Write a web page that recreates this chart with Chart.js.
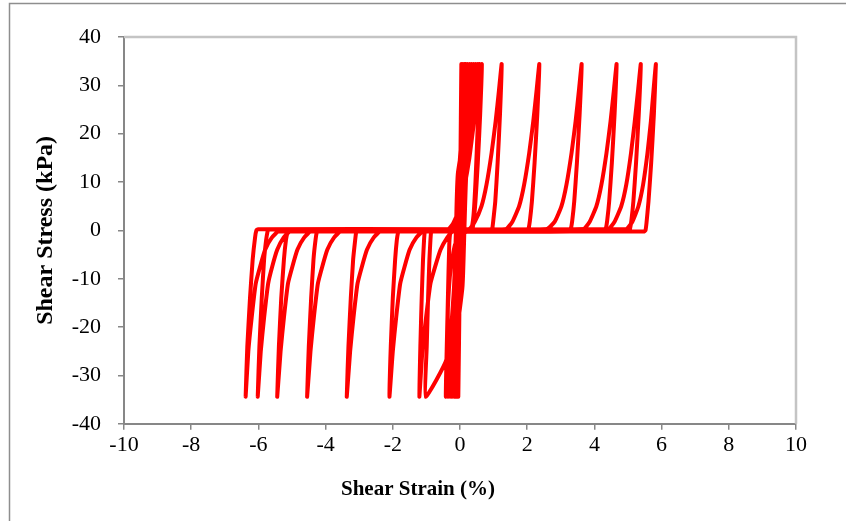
<!DOCTYPE html>
<html>
<head>
<meta charset="utf-8">
<script src="https://cdn.jsdelivr.net/npm/chart.js@4/dist/chart.umd.min.js"></script>
<style>
  html, body { margin: 0; padding: 0; background: #ffffff; }
  #wrap { width: 846px; height: 521px; position: relative; }
</style>
</head>
<body>
<div id="wrap"><canvas id="chart" width="846" height="521"></canvas></div>
<script>
// Axis ranges and tick steps
const strainTicks = { min: -10, max: 10, step: 2 };
const stressTicks = { min: -40, max: 40, step: 10 };

// Test record: [shear strain (%), shear stress (kPa)]
// Early cycles before liquefaction: small strain, steep loops
const earlyCycles = [
  [0, 0], [0.02, 12], [0.04, 34.4], [0.01, 12], [-0.01, 0], [-0.03, -12], [-0.05, -34.4],
  [-0.01, -12], [0.01, 0], [0.03, 12], [0.08, 34.4], [0.0, 12], [-0.02, 0], [-0.04, -12], [-0.09, -34.4],
  [0.0, -12], [0.02, 0], [0.04, 12], [0.12, 34.4], [-0.01, 12], [-0.03, 0], [-0.05, -12], [-0.13, -34.4],
  [0.01, -12], [0.03, 0], [0.05, 12], [0.17, 34.4], [-0.02, 12], [-0.04, 0], [-0.06, -12], [-0.17, -34.4],
  [0.02, -12], [0.04, 0], [0.06, 12], [0.22, 34.4], [-0.03, 12], [-0.05, 0], [-0.07, -12], [-0.21, -34.4],
  [0.03, -12], [0.05, 0], [0.08, 12], [0.28, 34.4], [-0.03, 12], [-0.06, 0], [-0.09, -12], [-0.25, -34.4],
  [0.04, -12], [0.07, 0], [0.10, 12], [0.34, 34.4], [-0.04, 12], [-0.07, 0], [-0.10, -12], [-0.29, -34.4],
  [0.05, -12], [0.09, 0], [0.13, 12], [0.40, 34.4], [-0.04, 12], [-0.08, 0], [-0.12, -12], [-0.33, -34.4],
  [0.06, -12], [0.11, 0], [0.16, 12], [0.46, 34.4], [-0.05, 12], [-0.10, 0], [-0.15, -12], [-0.37, -34.4],
  [0.07, -12], [0.13, 0], [0.19, 12], [0.52, 34.4], [-0.06, 12], [-0.12, 0], [-0.18, -12], [-0.42, -34.4]
];

// Onset of liquefaction: first flat stretches near zero stress
const onsetCycles = [
  [-0.36, -14], [-0.32, -3], [-0.28, -0.2], [-0.18, 0.8], [-0.06, 3], [0.04, 8], [0.14, 15],
  [0.26, 23], [0.36, 26], [0.47, 31], [0.58, 34.4],
  [0.53, 22], [0.46, 10], [0.40, 3], [0.33, 0.3], [0.20, -0.3], [0.0, -1], [-0.15, -3],
  [-0.28, -8], [-0.36, -16], [-0.40, -26.6], [-1.02, -34.4],
  [-0.99, -24], [-0.95, -14], [-0.91, -6], [-0.88, -2], [-0.86, -0.3], [-0.84, 0.25],
  [-0.35, 0.25], [-0.2, 1.5], [-0.02, 4.5], [0.13, 9], [0.28, 15], [0.40, 21.5], [0.52, 28], [0.65, 34.4],
  [0.60, 24], [0.53, 14], [0.46, 6], [0.41, 2], [0.37, 0.3], [0.34, -0.25],
  [-0.22, -0.25], [-0.38, -1.5], [-0.58, -4], [-0.74, -7.5], [-0.88, -11], [-1.01, -18], [-1.12, -25], [-1.21, -34.4],
  [-1.18, -24], [-1.14, -14], [-1.10, -6], [-1.07, -2], [-1.05, -0.3], [-1.03, 0.25]
];

// Large-strain cycles: loading branch then unloading branch for each peak
const cycle1 = [
  [0.26, 0.25], [0.44, 1.8], [0.64, 5], [0.79, 9.5], [0.94, 16], [1.06, 22.5], [1.16, 29], [1.24, 34.4],
  [1.19, 24], [1.12, 14], [1.05, 6], [0.99, 2], [0.96, 0.3], [0.93, -0.25],
  [-1.10, -0.25], [-1.30, -1.5], [-1.50, -4], [-1.65, -7.5], [-1.78, -11], [-1.90, -18], [-2.00, -25], [-2.10, -34.4],
  [-2.06, -24], [-2.00, -14], [-1.93, -6], [-1.88, -2], [-1.84, -0.3], [-1.81, 0.25]
];
const cycle2 = [
  [1.36, 0.25], [1.56, 1.8], [1.76, 5], [1.91, 9.5], [2.06, 16], [2.18, 22.5], [2.28, 29], [2.36, 34.4],
  [2.30, 24], [2.22, 14], [2.14, 6], [2.08, 2], [2.04, 0.3], [2.01, -0.25],
  [-2.37, -0.25], [-2.57, -1.5], [-2.77, -4], [-2.92, -7.5], [-3.05, -11], [-3.17, -18], [-3.27, -25], [-3.37, -34.4],
  [-3.32, -24], [-3.25, -14], [-3.18, -6], [-3.12, -2], [-3.09, -0.3], [-3.06, 0.25]
];
const cycle3 = [
  [2.57, 0.25], [2.82, 1.8], [3.02, 5], [3.17, 9.5], [3.32, 16], [3.44, 22.5], [3.54, 29], [3.62, 34.4],
  [3.56, 24], [3.48, 14], [3.40, 6], [3.34, 2], [3.30, 0.3], [3.27, -0.25],
  [-3.55, -0.25], [-3.75, -1.5], [-3.95, -4], [-4.10, -7.5], [-4.23, -11], [-4.35, -18], [-4.45, -25], [-4.55, -34.4],
  [-4.50, -24], [-4.43, -14], [-4.36, -6], [-4.30, -2], [-4.26, -0.3], [-4.22, 0.25]
];
const cycle4 = [
  [3.66, 0.25], [3.86, 1.8], [4.06, 5], [4.21, 9.5], [4.36, 16], [4.48, 22.5], [4.58, 29], [4.66, 34.4],
  [4.60, 24], [4.52, 14], [4.44, 6], [4.38, 2], [4.34, 0.3], [4.31, -0.25],
  [-4.44, -0.25], [-4.64, -1.5], [-4.84, -4], [-4.99, -7.5], [-5.12, -11], [-5.24, -18], [-5.34, -25], [-5.44, -34.4],
  [-5.39, -24], [-5.32, -14], [-5.24, -6], [-5.18, -2], [-5.13, -0.3], [-5.10, 0.25]
];
const cycle5 = [
  [4.40, 0.25], [4.60, 1.8], [4.80, 5], [4.95, 9.5], [5.09, 16], [5.20, 22.5], [5.30, 29], [5.38, 34.4],
  [5.32, 24], [5.24, 14], [5.16, 6], [5.10, 2], [5.06, 0.3], [5.03, -0.25],
  [-5.05, -0.25], [-5.25, -1.5], [-5.44, -4], [-5.59, -7.5], [-5.71, -11], [-5.83, -18], [-5.93, -25], [-6.02, -34.4],
  [-5.97, -24], [-5.90, -14], [-5.83, -6], [-5.77, -2], [-5.73, -0.3], [-5.70, 0.25]
];
const cycle6 = [
  [4.93, 0.25], [5.13, 1.8], [5.31, 5], [5.45, 9.5], [5.58, 16], [5.68, 22.5], [5.76, 29], [5.83, 34.4],
  [5.77, 24], [5.69, 14], [5.61, 6], [5.55, 1.5], [5.52, 0], [5.47, -0.25],
  [-5.40, -0.25], [-5.60, -1.5], [-5.80, -4], [-5.95, -7.5], [-6.08, -11], [-6.20, -18], [-6.30, -25], [-6.38, -34.4],
  [-6.33, -24], [-6.25, -14], [-6.17, -6], [-6.10, -1.5], [-6.06, 0], [-6.01, 0.25], [0.0, 0.25]
];

const stressStrainPath = [
  ...earlyCycles, ...onsetCycles,
  ...cycle1, ...cycle2, ...cycle3, ...cycle4, ...cycle5, ...cycle6
].map(([x, y]) => ({ x, y }));

const serif = "'Liberation Serif', 'Times New Roman', serif";
const axisGrey = '#878787';

// Light frame on the top and right of the plot area, plus the outer chart frame
const framePlugin = {
  id: 'frame',
  beforeDraw(chart) {
    const { ctx, width, height } = chart;
    ctx.save();
    ctx.fillStyle = '#ffffff';
    ctx.fillRect(0, 0, width, height);
    ctx.strokeStyle = '#8e8e8e';
    ctx.lineWidth = 1.5;
    ctx.beginPath();
    ctx.moveTo(9.5, height);
    ctx.lineTo(9.5, 3.5);
    ctx.lineTo(width, 3.5);
    ctx.stroke();
    ctx.restore();
  },
  afterDatasetsDraw(chart) {
    const { ctx, chartArea: a } = chart;
    ctx.save();
    ctx.strokeStyle = '#c4c4c4';
    ctx.lineWidth = 2.5;
    ctx.beginPath();
    ctx.moveTo(a.left, a.top);
    ctx.lineTo(a.right, a.top);
    ctx.lineTo(a.right, a.bottom);
    ctx.stroke();
    ctx.restore();
  }
};

new Chart(document.getElementById('chart'), {
  type: 'scatter',
  data: {
    datasets: [{
      data: stressStrainPath,
      showLine: true,
      borderColor: '#ff0000',
      backgroundColor: '#ff0000',
      borderWidth: 4,
      borderJoinStyle: 'round',
      borderCapStyle: 'round',
      pointRadius: 0,
      tension: 0.15,
      clip: false
    }]
  },
  options: {
    responsive: false,
    animation: false,
    events: [],
    layout: { padding: { top: 37, right: 10, left: 0, bottom: 0 } },
    plugins: {
      legend: { display: false },
      tooltip: { enabled: false },
      title: {
        display: true,
        position: 'bottom',
        text: 'Shear Strain (%)',
        color: '#000',
        font: { family: serif, size: 21, weight: 'bold' },
        padding: { top: 0, bottom: 19 }
      }
    },
    scales: {
      x: {
        type: 'linear',
        min: strainTicks.min,
        max: strainTicks.max,
        afterFit(scale) { scale.height = 53; },
        ticks: {
          stepSize: strainTicks.step,
          color: '#000',
          padding: 2,
          font: { family: serif, size: 22 }
        },
        grid: { drawOnChartArea: false, drawTicks: true, tickLength: 6, color: axisGrey, lineWidth: 1.5 },
        border: { display: true, color: axisGrey, width: 2 }
      },
      y: {
        type: 'linear',
        min: stressTicks.min,
        max: stressTicks.max,
        afterFit(scale) { scale.width = 124; },
        ticks: {
          stepSize: stressTicks.step,
          color: '#000',
          padding: 17,
          font: { family: serif, size: 22 }
        },
        grid: { drawOnChartArea: false, drawTicks: true, tickLength: 6, color: axisGrey, lineWidth: 1.5 },
        border: { display: true, color: axisGrey, width: 2 },
        title: {
          display: true,
          text: 'Shear Stress (kPa)',
          color: '#000',
          font: { family: serif, size: 24, weight: 'bold' },
          padding: { top: 31, bottom: 0 }
        }
      },
      // Empty margin on the right of the plot area
      yRight: {
        type: 'linear',
        position: 'right',
        min: stressTicks.min,
        max: stressTicks.max,
        afterFit(scale) { scale.width = 40; },
        ticks: { display: false },
        grid: { display: false, drawTicks: false },
        border: { display: false }
      }
    }
  },
  plugins: [framePlugin]
});
</script>
</body>
</html>
